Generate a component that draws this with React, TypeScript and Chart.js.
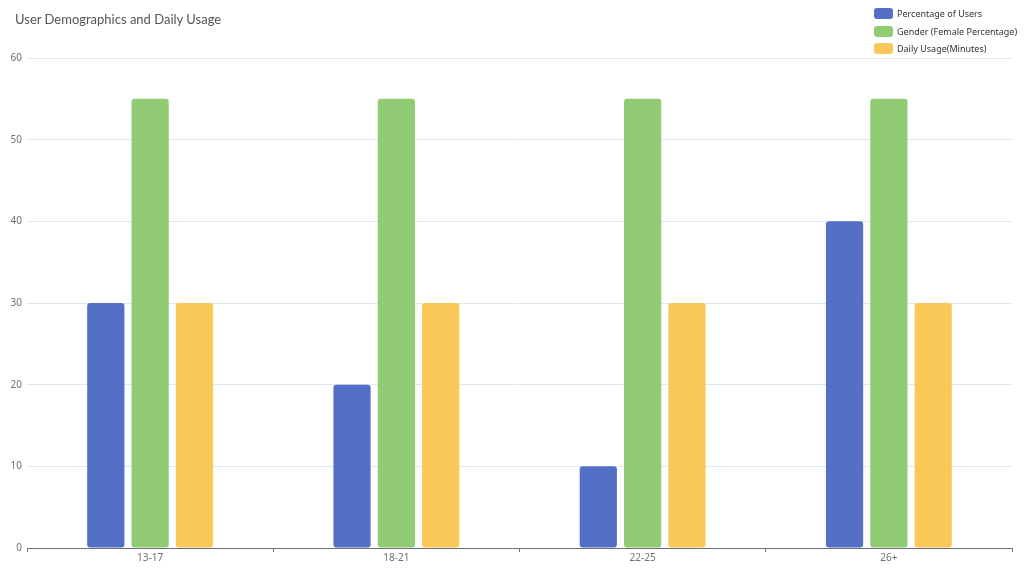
import React, { useEffect, useRef } from "react";
import { Chart, registerables } from "chart.js";

Chart.register(...registerables);

const categories = ["13-17", "18-21", "22-25", "26+"];
const percentageOfUsers = [30, 20, 10, 40];
const genderFemale = [55, 55, 55, 55];
const dailyUsage = [30, 30, 30, 30];
const seriesNames = ["Percentage of Users", "Gender (Female Percentage)", "Daily Usage(Minutes)"];
const seriesColors = ["#5470c6", "#91cc75", "#fac858"];
const titleText = "User Demographics and Daily Usage";

export default function App() {
  const ref = useRef<HTMLCanvasElement | null>(null);
  useEffect(() => {
    if (!ref.current) return;
    const values = [percentageOfUsers, genderFemale, dailyUsage];
    const chart = new Chart(ref.current, {
      type: "bar",
      data: {
        labels: categories,
        datasets: values.map((v, i) => ({
          label: seriesNames[i],
          data: v,
          backgroundColor: seriesColors[i],
          borderRadius: 3,
          borderSkipped: false,
          categoryPercentage: 0.54,
          barPercentage: 0.84,
        })),
      },
      options: {
        animation: false,
        responsive: false,
        maintainAspectRatio: false,
        layout: { padding: { top: 58, right: 12, left: 0, bottom: 0 } },
        plugins: { legend: { display: false }, title: { display: false }, tooltip: { enabled: false } },
        scales: {
          x: {
            grid: { display: true, drawOnChartArea: false, offset: true, tickLength: 4, color: "#6e7079" },
            border: { display: true, color: "#6e7079" },
            ticks: { color: "#6e7079", font: { family: "Noto Sans", size: 10 }, padding: 0 },
            afterFit: (s: any) => { s.height = 27; },
          },
          y: {
            min: 0,
            max: 60,
            ticks: { stepSize: 10, color: "#6e7079", font: { family: "Noto Sans", size: 10 }, padding: 5 },
            grid: { color: "#e0e6f1", drawTicks: false },
            border: { display: false },
            afterFit: (s: any) => { s.width = 27; },
          },
        },
      },
    });
    return () => chart.destroy();
  }, []);
  return (
    <div style={{ position: "fixed", left: 0, top: 0, width: 1024, height: 575, background: "#fff" }}>
      <canvas ref={ref} width={1024} height={575} style={{ position: "absolute", left: 0, top: 0, width: 1024, height: 575 }} />
      <div style={{ position: "absolute", left: 15, top: 11, fontFamily: "Lato", fontSize: 13, color: "#555" }}>{titleText}</div>
      <div style={{ position: "absolute", left: 874, top: 5, fontFamily: "Noto Sans", fontSize: 9, color: "#333", whiteSpace: "nowrap" }}>
        {seriesNames.map((n, i) => (
          <div key={n} style={{ display: "flex", alignItems: "center", height: 17.5 }}>
            <span style={{ display: "inline-block", width: 19, height: 11, borderRadius: 3, background: seriesColors[i], marginRight: 4, flexShrink: 0 }} />
            <span>{n}</span>
          </div>
        ))}
      </div>
    </div>
  );
}
